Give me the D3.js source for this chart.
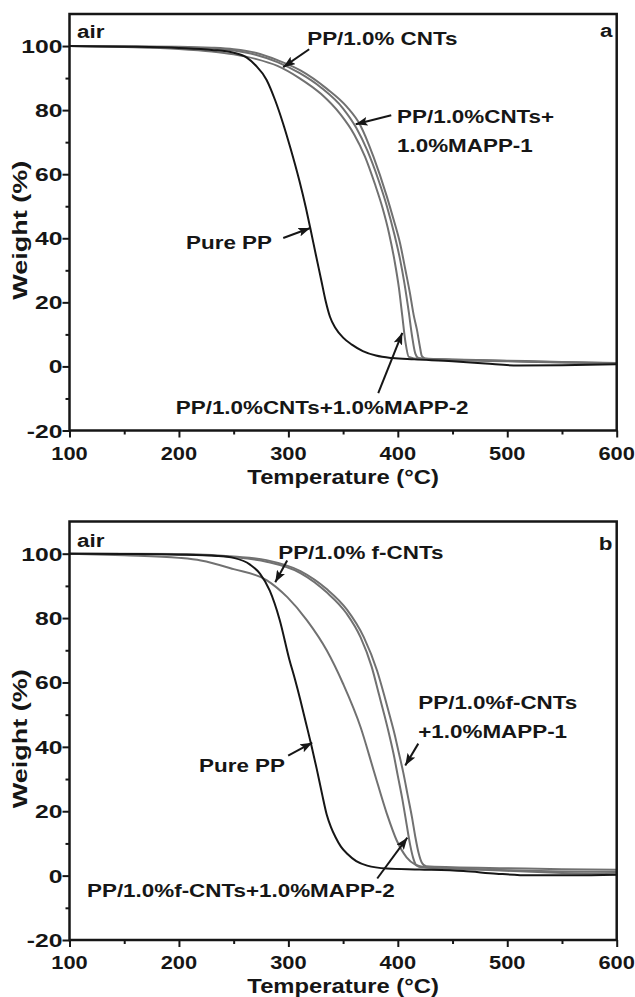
<!DOCTYPE html>
<html>
<head>
<meta charset="utf-8">
<script src="https://cdn.jsdelivr.net/npm/d3@7"></script>
<style>
  html, body { margin: 0; padding: 0; background: #fff; }
  svg { display: block; }
</style>
</head>
<body>
<svg id="chart" width="635" height="997"></svg>
<script>
// ---- TGA curves in air: [temperature °C, weight %] ----
const aPurePP = [[100,100],[150,99.8],[200,99.4],[230,98.8],[250,97.9],[262,96.4],[270,94],[280,89.5],[288,83],[295,76],[302,68],[310,58],[316,49.5],[320,43.2],[325,35],[330,27],[334,20.5],[338,15.5],[343,12],[350,9],[358,6.8],[368,4.8],[380,3.4],[395,2.6],[415,2.2],[450,1.6],[480,0.9],[510,0.3],[550,0.4],[600,0.7]];
const aCNTs = [[100,100],[150,99.7],[200,99.1],[230,98.3],[250,97.4],[270,96],[290,93.8],[310,90],[330,85],[348,78.5],[360,72.5],[370,65.5],[379,57],[386,49.5],[392,41.5],[397,33],[401,24.5],[404,16],[407,7.5],[410,3],[420,2.3],[450,2.0],[500,1.6],[550,1.2],[600,0.9]];
const aCNTsMAPP2 = [[100,100],[150,99.9],[200,99.6],[230,99.2],[250,98.6],[270,97.3],[290,95],[310,91.6],[330,87],[350,80.5],[362,74.5],[372,67.5],[382,58.5],[390,50],[397,41],[402,33.5],[406,26],[410,17],[413,9.5],[416,4],[419,2.6],[430,2.3],[450,2.1],[500,1.7],[550,1.3],[600,1.0]];
const aCNTsMAPP1 = [[100,100],[150,99.9],[200,99.8],[230,99.5],[250,99],[270,97.9],[290,95.6],[311,92.4],[335,86.7],[353.5,81],[365.7,75.3],[377.8,65.4],[390,53],[396,46],[402,38.5],[407,30],[411,23],[414.5,16],[417.5,11.4],[420,6.5],[422,3.2],[425,2.5],[450,2.2],[500,1.8],[550,1.4],[600,1.1]];

const bPurePP = [[100,100],[150,99.9],[200,99.7],[235,99.3],[250,98.7],[265,96.6],[274,93.8],[283,88.5],[292,79.5],[301,67],[306,61],[311,54.5],[316,47.5],[321,40.5],[326,33],[331,25],[335,19],[339,15],[343,12],[348,9],[354,6.7],[362,4.5],[372,3.1],[390,2.2],[420,1.9],[460,1.4],[490,0.6],[520,0.1],[560,0.1],[600,0.3]];
const bFCNTs = [[100,100],[150,99.5],[200,98.7],[220,97.9],[250,95.2],[280,91.8],[299,86.5],[317,79.3],[335,70],[350,59.6],[366,46.1],[378,32.6],[390,19.2],[399,10.9],[408,5.7],[416,3.4],[425,2.6],[450,2.2],[500,1.5],[550,0.8],[600,0.4]];
const bFCNTsMAPP2 = [[100,100],[150,99.9],[200,99.8],[230,99.4],[250,98.9],[280,97.5],[311,94],[335,88],[353,81.5],[366,74],[376,65],[383,56],[388,49.5],[392,44],[396,38],[400,31],[404,24],[408,16],[411,10],[414,5.5],[417,3.2],[422,2.6],[450,2.2],[500,1.7],[550,1.3],[600,1.1]];
const bFCNTsMAPP1 = [[100,100],[150,100],[200,99.9],[230,99.6],[250,99.1],[280,98],[311,94.6],[335,89],[353.5,82.6],[369,74],[381,63.7],[388,55.5],[393,49.2],[397,44],[401,38],[405,32],[409,25],[413,18],[416,12],[419,7],[422,4],[426,2.9],[450,2.6],[500,2.3],[550,2.0],[600,1.8]];

// ---- axes ----
const xDomain = [100, 600];
const yDomain = [-20, 110];
const xMajor = [100, 200, 300, 400, 500, 600];
const xMinor = [150, 250, 350, 450, 550];
const yMajor = [-20, 0, 20, 40, 60, 80, 100];
const yMinor = [-10, 10, 30, 50, 70, 90];
const xTitle = "Temperature (°C)";
const yTitle = "Weight (%)";

// ---- annotations (data coordinates) ----
const aTexts = [
  { t: 106.9, w: 102.6, s: "air", anchor: "start" },
  { t: 596.2, w: 102.7, s: "a", anchor: "end" },
  { t: 317.2, w: 100.4, s: "PP/1.0% CNTs", anchor: "start" },
  { t: 399.3, w: 75.9, s: "PP/1.0%CNTs+", anchor: "start" },
  { t: 399.3, w: 67.0, s: "1.0%MAPP-1", anchor: "start" },
  { t: 206.5, w: 36.7, s: "Pure PP", anchor: "start" },
  { t: 197.1, w: -15.0, s: "PP/1.0%CNTs+1.0%MAPP-2", anchor: "start" }
];
const aArrows = [
  [[319, 99], [295.3, 93.4]],
  [[394, 78.4], [361.5, 75.6]],
  [[295.3, 40.1], [320, 43.2]],
  [[382.1, -8.3], [404.1, 10.5]]
];
const bTexts = [
  { t: 106.9, w: 102.1, s: "air", anchor: "start" },
  { t: 596.2, w: 101.0, s: "b", anchor: "end" },
  { t: 290.7, w: 98.5, s: "PP/1.0% f-CNTs", anchor: "start" },
  { t: 418.7, w: 51.9, s: "PP/1.0%f-CNTs", anchor: "start" },
  { t: 418.7, w: 42.9, s: "+1.0%MAPP-1", anchor: "start" },
  { t: 218.4, w: 32.3, s: "Pure PP", anchor: "start" },
  { t: 116.0, w: -6.5, s: "PP/1.0%f-CNTs+1.0%MAPP-2", anchor: "start" }
];
const bArrows = [
  [[298.9, 97.9], [288, 91.1]],
  [[418.7, 41.0], [406.8, 34.2]],
  [[299.8, 37.3], [321.8, 41.3]],
  [[381.2, -0.9], [408.7, 11.8]]
];

const BLACK = "#161616";
const GREY = "#717171";
const FONT = "'Liberation Sans', Arial, Helvetica, sans-serif";

const svg = d3.select("#chart");
svg.append("rect").attr("width", 635).attr("height", 997).attr("fill", "#fff");

const defs = svg.append("defs");
defs.append("marker")
  .attr("id", "head")
  .attr("markerUnits", "userSpaceOnUse")
  .attr("viewBox", "0 0 12 9")
  .attr("refX", 12).attr("refY", 4.5)
  .attr("markerWidth", 12).attr("markerHeight", 9)
  .attr("orient", "auto")
  .append("path").attr("d", "M0,0 L12,4.5 L0,9 L2.5,4.5 Z").attr("fill", BLACK);

function txt(g, x, y, s, size, sx, anchor, rot) {
  g.append("text")
    .attr("transform", `translate(${x},${y})${rot ? ` rotate(${rot})` : ""} scale(${sx},1)`)
    .attr("text-anchor", anchor)
    .attr("fill", BLACK)
    .style("font-family", FONT)
    .style("font-weight", "bold")
    .style("font-size", size + "px")
    .text(s);
}

const panels = [
  { id: "a", top: 14, bottom: 430.5, series: [aPurePP, aCNTs, aCNTsMAPP2, aCNTsMAPP1], texts: aTexts, arrows: aArrows },
  { id: "b", top: 521.5, bottom: 940, series: [bPurePP, bFCNTs, bFCNTsMAPP2, bFCNTsMAPP1], texts: bTexts, arrows: bArrows }
];
const left = 69.5, right = 616.7;

panels.forEach(p => {
  const x = d3.scaleLinear().domain(xDomain).range([left, right]);
  const y = d3.scaleLinear().domain(yDomain).range([p.bottom, p.top]);
  const g = svg.append("g");

  g.append("clipPath").attr("id", "clip-" + p.id)
    .append("rect").attr("x", left).attr("y", p.top).attr("width", right - left).attr("height", p.bottom - p.top);

  // curves: pure PP in black, nanocomposites in grey
  const line = d3.line().x(d => x(d[0])).y(d => y(d[1])).curve(d3.curveMonotoneX);
  const curves = g.append("g").attr("clip-path", `url(#clip-${p.id})`);
  [p.series[1], p.series[2], p.series[3]].forEach(s => {
    curves.append("path").datum(s).attr("d", line)
      .attr("fill", "none").attr("stroke", GREY).attr("stroke-width", 2);
  });
  curves.append("path").datum(p.series[0]).attr("d", line)
    .attr("fill", "none").attr("stroke", BLACK).attr("stroke-width", 2);

  // ticks
  const tickStyle = sel => {
    sel.select(".domain").remove();
    sel.selectAll(".tick line").attr("stroke", BLACK).attr("stroke-width", 2);
  };
  g.append("g").attr("transform", `translate(0,${p.bottom})`)
    .call(d3.axisBottom(x).tickValues(xMajor).tickSize(7).tickFormat(""))
    .call(tickStyle);
  g.append("g").attr("transform", `translate(0,${p.bottom})`)
    .call(d3.axisBottom(x).tickValues(xMinor).tickSize(4).tickFormat(""))
    .call(tickStyle);
  g.append("g").attr("transform", `translate(${left},0)`)
    .call(d3.axisLeft(y).tickValues(yMajor).tickSize(7).tickFormat(""))
    .call(tickStyle);
  g.append("g").attr("transform", `translate(${left},0)`)
    .call(d3.axisLeft(y).tickValues(yMinor).tickSize(4).tickFormat(""))
    .call(tickStyle);

  // frame
  g.append("rect").attr("x", left).attr("y", p.top)
    .attr("width", right - left).attr("height", p.bottom - p.top)
    .attr("fill", "none").attr("stroke", BLACK).attr("stroke-width", 2.5);

  // tick labels
  xMajor.forEach(v => txt(g, x(v), p.bottom + 29, String(v), 19, 1.15, "middle"));
  yMajor.forEach(v => txt(g, left - 7, y(v) + 7, String(v), 19, 1.3, "end"));

  // axis titles
  txt(g, (left + right) / 2, p.bottom + 53, xTitle, 20, 1.19, "middle");
  txt(g, 27, (p.top + p.bottom) / 2 + 8, yTitle, 20, 1.35, "middle", -90);

  // annotations
  p.texts.forEach(d => txt(g, x(d.t), y(d.w), d.s, 19, 1.18, d.anchor));
  p.arrows.forEach(a => {
    g.append("line")
      .attr("x1", x(a[0][0])).attr("y1", y(a[0][1]))
      .attr("x2", x(a[1][0])).attr("y2", y(a[1][1]))
      .attr("stroke", BLACK).attr("stroke-width", 2)
      .attr("marker-end", "url(#head)");
  });
});
</script>
</body>
</html>
